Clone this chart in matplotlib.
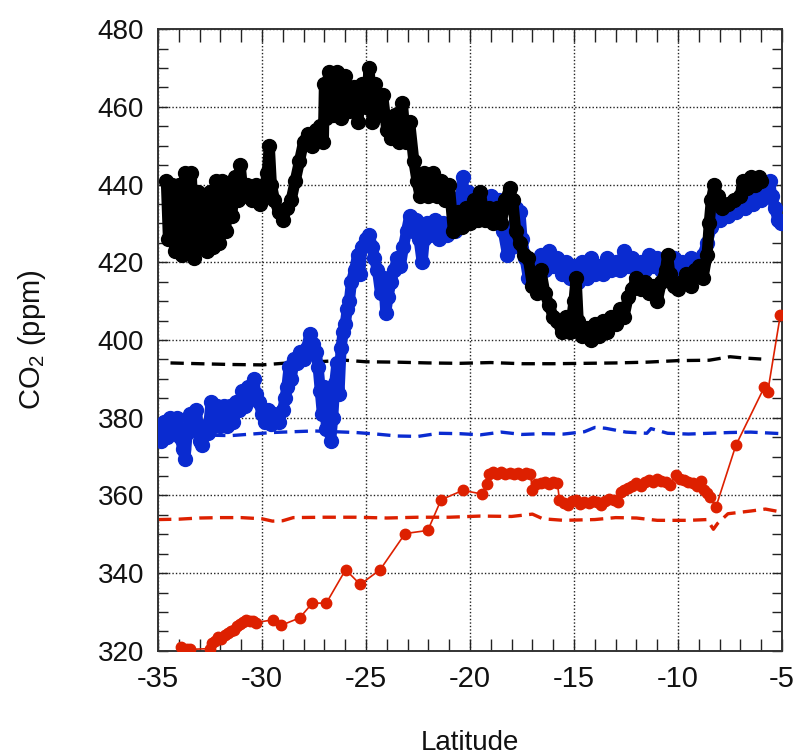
import matplotlib
matplotlib.use("Agg")
import matplotlib.pyplot as plt
from matplotlib.ticker import MultipleLocator

plt.rcParams['font.family'] = ['Liberation Sans', 'DejaVu Sans']
plt.rcParams['mathtext.default'] = 'regular'
plt.rcParams['axes.unicode_minus'] = False

# ---------------- data ----------------
black_lat = [-34.6, -34.5, -34.35, -34.2, -34.0, -33.85, -33.7, -33.55, -33.4, -33.25,
             -33.1, -32.95, -32.8, -32.65, -32.5, -32.35, -32.2, -32.05, -31.9, -31.75,
             -31.6, -31.45, -31.3, -31.15, -31.05, -30.9, -30.7, -30.5, -30.3, -30.1,
             -29.9, -29.75, -29.65, -29.55, -29.4, -29.2, -29.0, -28.8, -28.6, -28.4,
             -28.2, -28.0, -27.8, -27.6, -27.4, -27.2, -27.05, -27.0, -26.9, -26.8,
             -26.6, -26.4, -26.2, -26.0, -25.8, -25.6, -25.4, -25.2, -25.0, -24.85,
             -24.7, -24.55, -24.4, -24.2, -24.0, -23.8, -23.6, -23.4, -23.25, -23.1,
             -22.9, -22.7, -22.55, -22.4, -22.2, -22.0, -21.8, -21.6, -21.4, -21.2,
             -21.0, -20.8, -20.6, -20.4, -20.2, -20.0, -19.8, -19.6, -19.5, -19.3,
             -19.1, -18.9, -18.7, -18.5, -18.3, -18.1, -17.95, -17.8, -17.6, -17.4,
             -17.2, -17.0, -16.8, -16.6, -16.4, -16.2, -16.0, -15.8, -15.6, -15.4,
             -15.2, -15.0, -14.9, -14.8, -14.6, -14.4, -14.2, -14.0, -13.8, -13.6,
             -13.4, -13.2, -13.0, -12.8, -12.6, -12.4, -12.2, -12.0, -11.8, -11.6,
             -11.4, -11.2, -11.0, -10.8, -10.6, -10.5, -10.4, -10.2, -10.0, -9.8,
             -9.6, -9.4, -9.2, -9.0, -8.8, -8.6, -8.5, -8.4, -8.25, -8.1,
             -7.9, -7.6, -7.3, -7.0, -6.9, -6.7, -6.5, -6.3, -6.1, -6.0]
black_co2 = [441, 426, 440, 423, 440, 422, 443, 424, 443, 421,
             438, 424, 436, 423, 438, 424, 441, 425, 441, 428,
             440, 432, 442, 436, 445, 437, 440, 436, 440, 435,
             438, 443, 450, 440, 436, 433, 431, 434, 436, 441,
             446, 451, 453, 450, 454, 455, 451, 466, 457, 469,
             458, 469, 457, 468, 459, 465, 456, 466, 460, 470,
             456, 466, 458, 463, 454, 452, 458, 451, 461, 451,
             456, 446, 441, 437, 443, 437, 443, 437, 441, 436,
             440, 428, 433, 429, 434, 430, 436, 431, 438, 431,
             434, 430, 434, 430, 436, 439, 436, 428, 425, 422,
             421, 414, 412, 418, 412, 409, 406, 405, 402, 406,
             402, 410, 416, 405, 401, 403, 400, 404, 401, 405,
             402, 406, 404, 408, 406, 411, 413, 416, 413, 415,
             412, 414, 410, 415, 418, 422, 417, 414, 413, 415,
             417, 414, 418, 419, 416, 422, 430, 436, 440, 437,
             434, 435, 436, 437, 441, 439, 442, 440, 442, 441]

blue_lat = [-35.0, -34.85, -34.7, -34.55, -34.4, -34.25, -34.1, -33.95, -33.8, -33.7,
            -33.6, -33.45, -33.3, -33.15, -33.0, -32.9, -32.75, -32.6, -32.45, -32.3,
            -32.15, -32.0, -31.85, -31.7, -31.55, -31.4, -31.25, -31.1, -30.95, -30.8,
            -30.65, -30.5, -30.4, -30.3, -30.15, -30.0, -29.85, -29.7, -29.55, -29.4,
            -29.2, -29.0, -28.9, -28.8, -28.7, -28.6, -28.45, -28.3, -28.15, -28.0,
            -27.85, -27.7, -27.55, -27.4, -27.3, -27.2, -27.1, -27.0, -26.9, -26.8,
            -26.7, -26.6, -26.5, -26.4, -26.3, -26.2, -26.1, -26.0, -25.9, -25.8,
            -25.7, -25.55, -25.4, -25.3, -25.2, -25.0, -24.85, -24.7, -24.6, -24.45,
            -24.3, -24.15, -24.05, -23.95, -23.8, -23.65, -23.5, -23.35, -23.2, -23.05,
            -22.9, -22.75, -22.6, -22.45, -22.3, -22.2, -22.05, -21.9, -21.7, -21.5,
            -21.3, -21.1, -20.9, -20.7, -20.55, -20.45, -20.35, -20.25, -20.1, -19.95,
            -19.8, -19.6, -19.4, -19.2, -19.0, -18.8, -18.6, -18.4, -18.2, -18.0,
            -17.8, -17.6, -17.5, -17.35, -17.2, -17.0, -16.8, -16.6, -16.4, -16.2,
            -16.0, -15.8, -15.6, -15.4, -15.2, -15.0, -14.8, -14.6, -14.4, -14.2,
            -14.0, -13.8, -13.6, -13.4, -13.2, -13.0, -12.8, -12.6, -12.4, -12.2,
            -12.0, -11.8, -11.6, -11.4, -11.2, -11.0, -10.8, -10.6, -10.4, -10.2,
            -10.0, -9.8, -9.6, -9.4, -9.2, -9.0, -8.8, -8.6, -8.4, -8.2,
            -8.0, -7.8, -7.6, -7.4, -7.2, -7.0, -6.8, -6.6, -6.4, -6.2,
            -6.0, -5.8, -5.6, -5.5, -5.35, -5.2, -5.05]
blue_co2 = [378, 374, 379, 375, 380, 376, 380, 375, 372, 369.5,
            376, 381, 377, 382, 374, 373, 378, 376, 384, 378,
            383, 378, 383, 378, 383, 379, 384, 382, 387, 383,
            388, 385, 390, 386, 384, 381, 379, 382, 378.5, 381,
            379, 382, 385, 388, 393, 390, 395, 394, 397, 395,
            398, 401.5, 399, 397, 393, 387, 381, 388, 377, 386,
            374, 380, 389, 394, 386, 398, 402, 404, 408, 410,
            415, 418, 422, 417, 424, 426, 427, 424, 421, 418,
            412, 416, 407, 411, 415, 418, 421, 419, 424, 428,
            432, 428, 431, 426, 420, 426, 430, 427, 431, 426,
            430, 427, 430, 428, 429, 437, 442, 432, 438, 431,
            436, 432, 436, 433, 437, 434, 436, 428, 422, 424,
            434, 433, 426, 421, 416, 419, 415, 422, 418, 423,
            419, 421, 417, 420, 416, 419, 415, 420, 416, 421,
            417, 419, 417, 421, 418, 420, 418, 423, 419, 421,
            418, 420, 418, 422, 419, 421, 418, 421, 419, 421,
            417, 420, 418, 421, 419, 420, 422, 425, 429, 432,
            431, 434, 432, 435, 433, 436, 434, 436, 435, 437,
            436, 439, 441, 437, 434, 431, 430]

red_lat = [-33.9, -33.75, -33.6, -33.45, -32.5, -32.4, -32.25, -32.1, -31.95, -31.8,
           -31.65, -31.5, -31.35, -31.2, -31.05, -30.9, -30.75, -30.6, -30.45, -30.3,
           -29.47, -29.07, -28.19, -27.58, -26.91, -25.98, -25.28, -24.32, -23.12, -22.03,
           -21.39, -20.35, -19.44, -19.2, -19.1, -18.9, -18.7, -18.5, -18.3, -18.1,
           -17.9, -17.7, -17.5, -17.3, -17.1, -17.0, -16.85, -16.6, -16.4, -16.2,
           -16.0, -15.8, -15.7, -15.5, -15.3, -15.1, -14.9, -14.7, -14.5, -14.3,
           -14.1, -13.9, -13.7, -13.5, -13.3, -13.1, -12.9, -12.75, -12.6, -12.4,
           -12.2, -12.0, -11.8, -11.6, -11.4, -11.2, -11.0, -10.8, -10.6, -10.4,
           -10.1, -9.9, -9.7, -9.5, -9.3, -9.1, -8.9, -8.75, -8.6, -8.45,
           -8.18, -7.22, -5.85, -5.69, -5.08]
red_co2 = [321, 320.3, 320.6, 320.4, 320.6, 322, 322.5, 323.5, 323, 324,
           324.5, 325, 325.5, 326.5, 327, 327.5, 328, 327.6, 327.8, 327.3,
           328, 326.6, 328.5, 332.3, 332.3, 340.9, 337.1, 340.9, 350.2, 351,
           358.9, 361.3, 360.4, 363, 365.5, 366, 365.6, 366, 365.5, 365.8,
           365.4, 365.7, 365.3, 365.7, 365.5, 361.3, 363, 363.2, 363.5, 363,
           363.5, 363.2, 358.8, 358, 357.6, 358.5, 358.8, 357.8, 358.4, 358,
           358.6, 358.2, 357.5, 358.5, 359.2, 358.8, 358.3, 361, 361.3, 362,
           362.4, 363.2, 362.5, 363.4, 364, 363.5, 364.3, 363.8, 363.4, 362.8,
           365.2, 364.3, 364, 363.5, 363.2, 362.5, 363.6, 361.5, 360.6, 359.5,
           357, 372.9, 387.9, 386.6, 406.5]

bdash_lat = [-34.4, -33.0, -31.5, -30.0, -28.5, -27.0, -26.0, -25.0, -23.5, -22.0,
             -20.5, -19.0, -17.5, -16.0, -14.5, -13.0, -11.5, -10.0, -8.5, -7.5,
             -6.9, -6.0]
bdash_co2 = [394.1, 393.9, 393.7, 393.6, 394.2, 394.5, 394.8, 394.4, 394.3, 394.1,
             394.0, 394.2, 393.9, 393.9, 394.0, 394.1, 394.3, 394.7, 394.8, 395.7,
             395.4, 395.1]

udash_lat = [-32.4, -31.5, -30.5, -29.5, -28.5, -27.5, -26.5, -25.5, -24.5, -23.5,
             -22.5, -21.5, -20.5, -19.5, -18.5, -17.5, -16.5, -15.5, -14.5, -14.0,
             -13.5, -12.5, -11.5, -11.3, -10.5, -9.5, -8.5, -7.5, -6.5, -5.0]
udash_co2 = [375.5, 375.4, 375.8, 376.2, 376.4, 376.6, 376.4, 376.2, 375.8, 375.3,
             375.2, 376.0, 375.9, 375.6, 376.3, 375.7, 375.9, 375.8, 376.4, 377.5,
             377.3, 376.3, 376.0, 377.2, 376.0, 375.8, 376.0, 376.2, 376.3, 375.9]

rdash_lat = [-35.0, -34.0, -33.0, -32.0, -31.0, -30.0, -29.5, -29.0, -28.5, -27.0,
             -25.5, -24.0, -22.5, -21.0, -19.5, -18.0, -17.0, -16.5, -15.5, -14.0,
             -13.0, -12.0, -11.0, -9.5, -8.6, -8.3, -8.1, -7.6, -6.5, -5.8, -5.0]
rdash_co2 = [353.8, 353.9, 354.2, 354.3, 354.3, 354.0, 353.4, 353.5, 354.3, 354.4,
             354.4, 354.2, 354.4, 354.4, 354.7, 354.6, 355.2, 354.0, 353.6, 353.8,
             354.3, 354.2, 353.6, 353.6, 353.8, 351.3, 352.8, 355.3, 356.0, 356.5, 355.7]

xticks = [-35, -30, -25, -20, -15, -10, -5]
yticks = [320, 340, 360, 380, 400, 420, 440, 460, 480]

BLACK = '#000000'
BLUE = '#0a2bd0'
RED = '#dd2000'

# ---------------- figure ----------------
fig = plt.figure(figsize=(7.98, 7.56), dpi=100)
ax = fig.add_axes([0.198, 0.139, 0.782, 0.8225])

ax.set_xlim(-35, -5)
ax.set_ylim(320, 480)

ax.grid(True, which='major', color='#222222', linestyle=(0, (1, 1.5)), linewidth=1.0)
ax.set_axisbelow(True)

# model (dashed) lines
ax.plot(rdash_lat, rdash_co2, color=RED, lw=2.4, dashes=(4, 2.2), zorder=2)
ax.plot(udash_lat, udash_co2, color=BLUE, lw=2.4, dashes=(4, 2.2), zorder=2)
ax.plot(bdash_lat, bdash_co2, color=BLACK, lw=2.4, dashes=(4, 2.2), zorder=2)

# observations
ax.plot(blue_lat, blue_co2, color=BLUE, lw=8, marker='o', ms=10,
        solid_capstyle='round', solid_joinstyle='round', zorder=3)
ax.plot(black_lat, black_co2, color=BLACK, lw=8, marker='o', ms=10,
        solid_capstyle='round', solid_joinstyle='round', zorder=4)
ax.plot(red_lat, red_co2, color=RED, lw=1.2, marker='o', ms=7.5, zorder=5)

ax.set_xticks(xticks)
ax.set_yticks(yticks)
ax.xaxis.set_minor_locator(MultipleLocator(1))
ax.yaxis.set_minor_locator(MultipleLocator(5))
ax.tick_params(which='both', direction='in', top=True, right=True, width=1, colors='#222222')
ax.tick_params(axis='x', which='both', length=9, labelsize=21, pad=10, labelcolor='#111111')
ax.tick_params(axis='y', which='both', length=7, labelsize=20, pad=10, labelcolor='#111111')

for s in ax.spines.values():
    s.set_linewidth(1.4)
    s.set_color('#333333')

ax.set_xlabel('Latitude', fontsize=20, labelpad=27, color='#111111')
ax.set_ylabel('CO$_2$ (ppm)', fontsize=21, labelpad=36, color='#111111')

fig.savefig('out.png', dpi=100)
